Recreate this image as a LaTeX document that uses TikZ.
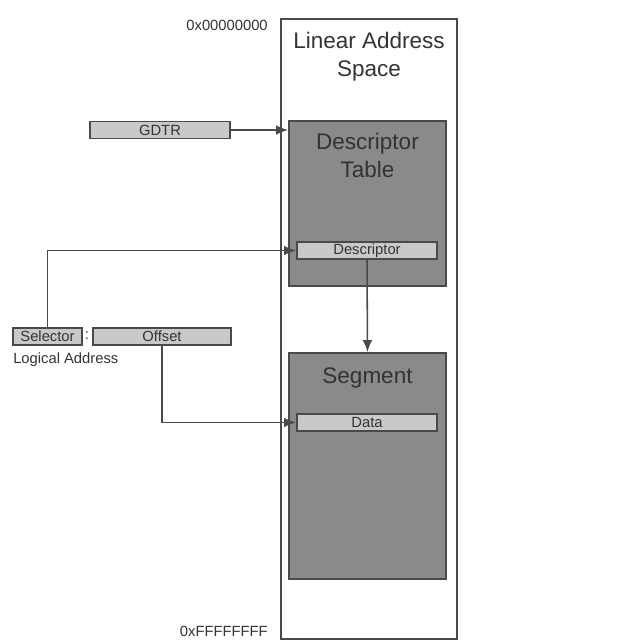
\documentclass[tikz,border=0pt]{standalone}
\usepackage{fontspec}
\setmainfont{Liberation Sans}
\usetikzlibrary{arrows.meta,positioning}
\definecolor{segdark}{HTML}{8A8A8A}
\definecolor{seglight}{HTML}{C9C9C9}
\definecolor{segline}{HTML}{4A4A4A}
\definecolor{segtext}{HTML}{333333}

\begin{document}
\begin{tikzpicture}[
      x=0.025cm,y=-0.025cm,
      font=\fontsize{10.5}{12}\selectfont,
      text=segtext,
      box/.style={draw=segline,line width=1.2pt,minimum width=#1,
        minimum height=0.425cm,inner sep=0pt,fill=seglight},
      region/.style={draw=segline,line width=1.2pt,fill=segdark,inner sep=0pt},
      title/.style={font=\fontsize{16}{19.5}\selectfont,align=center,
        inner sep=0pt,anchor=north},
      tag/.style={inner sep=0pt},
      link/.style={-{Latex[length=3mm,width=2.4mm]},line width=1.1pt,draw=segline}
    ]
    \useasboundingbox (0,0) rectangle (640,643);
    % linear address space
    \node[draw=segline,line width=1.2pt,inner sep=0pt,minimum width=4.4cm,
      minimum height=15.5cm] (space) at (369,329) {};
    \node[title,below=3.5mm of space.north] (spacename)
      {Linear Address\\Space};
    \node[tag,anchor=east] (top) at (268,25) {0x00000000};
    \node[tag,anchor=east] (bottom) at (268,631) {0xFFFFFFFF};

    % descriptor table and segment
    \node[region,minimum width=3.925cm,minimum height=4.125cm] (gdt)
      at (367.5,203.5) {};
    \node[title,below=3.3mm of gdt.north] (gdtname) {Descriptor\\Table};
    \node[box=3.5cm] (desc) at (367,250.5) {Descriptor};
    \node[region,minimum width=3.925cm,minimum height=5.65cm] (seg)
      at (367.5,466) {};
    \node[title,below=3.8mm of seg.north] (segname) {Segment};
    \node[box=3.5cm] (data) at (367,422.5) {Data};

    % registers and logical address
    \node[box=3.5cm] (gdtr) at (160,130) {GDTR};
    \node[box=1.725cm] (sel) at (47.5,336.5) {Selector};
    \node[tag] (colon) at (87,336) {:};
    \node[box=3.45cm] (off) at (162,336.5) {Offset};
    \node[tag,anchor=north west] (logical) at (13,353) {Logical Address};

    \draw[link] (gdtr.east) -- (gdtr.east -| gdt.west);
    \draw[link] (sel.north) |- (desc.west);
    \draw[link] (off.south) |- (data.west);
    \draw[link] (desc.south) -- (seg.north);
  \end{tikzpicture}
\end{document}
